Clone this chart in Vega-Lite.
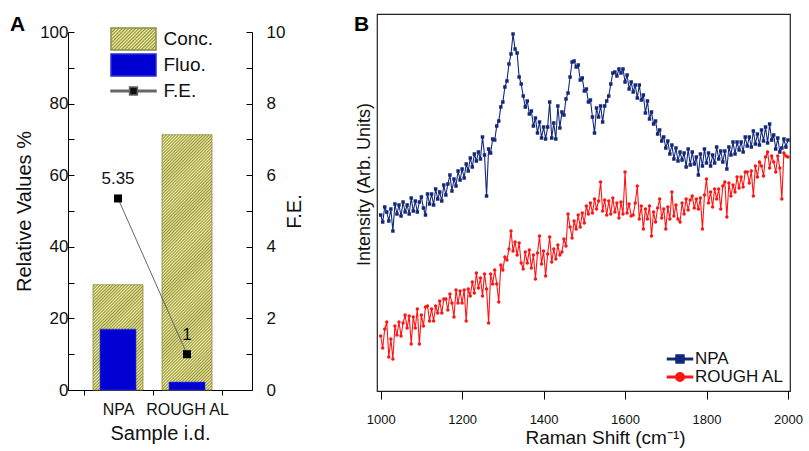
{
"$schema":"https://vega.github.io/schema/vega-lite/v6.json",
"background":"white",
"padding":{"left":10,"top":13,"right":5,"bottom":5},
"spacing":48,
"config":{"font":"Liberation Sans","view":{"stroke":null},
"axis":{"domainColor":"#000","tickColor":"#000","labelColor":"#111","titleColor":"#111","grid":false,"titleFontWeight":"normal","labelFont":"Liberation Sans","titleFont":"Liberation Sans"},
"legend":{"labelFont":"Liberation Sans"},"title":{"font":"Liberation Sans"}},
"resolve":{"scale":{"color":"independent"},"legend":{"color":"independent"}},
"datasets":{
"a":[{"sample":"NPA","series":"Conc.","value":29.4},{"sample":"ROUGH AL","series":"Conc.","value":71.3},{"sample":"NPA","series":"Fluo.","value":17.0},{"sample":"ROUGH AL","series":"Fluo.","value":2.2},{"sample":"NPA","series":"F.E.","value":5.35},{"sample":"ROUGH AL","series":"F.E.","value":1}],
"npa":[{"x":1000,"y":176},{"x":1005,"y":169},{"x":1010,"y":184},{"x":1015,"y":179},{"x":1020,"y":170},{"x":1025,"y":182},{"x":1030,"y":160},{"x":1035,"y":187},{"x":1040,"y":177},{"x":1045,"y":186},{"x":1050,"y":175},{"x":1055,"y":189},{"x":1060,"y":179},{"x":1065,"y":186},{"x":1070,"y":177},{"x":1075,"y":193},{"x":1080,"y":180},{"x":1085,"y":190},{"x":1090,"y":179},{"x":1095,"y":189},{"x":1100,"y":194},{"x":1105,"y":183},{"x":1110,"y":176},{"x":1115,"y":197},{"x":1120,"y":187},{"x":1125,"y":197},{"x":1130,"y":186},{"x":1135,"y":202},{"x":1140,"y":192},{"x":1145,"y":199},{"x":1150,"y":190},{"x":1155,"y":206},{"x":1160,"y":196},{"x":1165,"y":207},{"x":1170,"y":216},{"x":1175,"y":200},{"x":1180,"y":212},{"x":1185,"y":205},{"x":1190,"y":220},{"x":1195,"y":211},{"x":1200,"y":222},{"x":1205,"y":213},{"x":1210,"y":227},{"x":1215,"y":220},{"x":1220,"y":233},{"x":1225,"y":224},{"x":1230,"y":237},{"x":1235,"y":230},{"x":1240,"y":239},{"x":1245,"y":232},{"x":1250,"y":254},{"x":1255,"y":236},{"x":1260,"y":195},{"x":1265,"y":242},{"x":1270,"y":238},{"x":1275,"y":252},{"x":1280,"y":251},{"x":1285,"y":265},{"x":1290,"y":270},{"x":1295,"y":284},{"x":1300,"y":289},{"x":1305,"y":304},{"x":1310,"y":310},{"x":1315,"y":327},{"x":1320,"y":337},{"x":1325,"y":357},{"x":1330,"y":342},{"x":1335,"y":338},{"x":1340,"y":314},{"x":1345,"y":307},{"x":1350,"y":295},{"x":1355,"y":284},{"x":1360,"y":290},{"x":1365,"y":277},{"x":1370,"y":280},{"x":1375,"y":265},{"x":1380,"y":273},{"x":1385,"y":258},{"x":1390,"y":269},{"x":1395,"y":253},{"x":1400,"y":264},{"x":1405,"y":252},{"x":1410,"y":264},{"x":1415,"y":289},{"x":1420,"y":253},{"x":1425,"y":268},{"x":1430,"y":252},{"x":1435,"y":285},{"x":1440,"y":263},{"x":1445,"y":279},{"x":1450,"y":276},{"x":1455,"y":292},{"x":1460,"y":298},{"x":1465,"y":314},{"x":1470,"y":329},{"x":1475,"y":330},{"x":1480,"y":324},{"x":1485,"y":326},{"x":1490,"y":311},{"x":1495,"y":313},{"x":1500,"y":300},{"x":1505,"y":302},{"x":1510,"y":289},{"x":1515,"y":291},{"x":1520,"y":274},{"x":1525,"y":258},{"x":1530,"y":283},{"x":1535,"y":274},{"x":1540,"y":285},{"x":1545,"y":269},{"x":1550,"y":285},{"x":1555,"y":290},{"x":1560,"y":295},{"x":1565,"y":307},{"x":1570,"y":318},{"x":1575,"y":319},{"x":1580,"y":315},{"x":1585,"y":322},{"x":1590,"y":318},{"x":1595,"y":322},{"x":1600,"y":309},{"x":1605,"y":316},{"x":1610,"y":302},{"x":1615,"y":309},{"x":1620,"y":299},{"x":1625,"y":306},{"x":1630,"y":293},{"x":1635,"y":306},{"x":1640,"y":291},{"x":1645,"y":296},{"x":1650,"y":278},{"x":1655,"y":290},{"x":1660,"y":272},{"x":1665,"y":279},{"x":1670,"y":267},{"x":1675,"y":270},{"x":1680,"y":257},{"x":1685,"y":261},{"x":1690,"y":250},{"x":1695,"y":254},{"x":1700,"y":243},{"x":1705,"y":250},{"x":1710,"y":237},{"x":1715,"y":246},{"x":1720,"y":232},{"x":1725,"y":243},{"x":1730,"y":230},{"x":1735,"y":239},{"x":1740,"y":231},{"x":1745,"y":238},{"x":1750,"y":224},{"x":1755,"y":242},{"x":1760,"y":226},{"x":1765,"y":239},{"x":1770,"y":227},{"x":1775,"y":234},{"x":1780,"y":216},{"x":1785,"y":237},{"x":1790,"y":225},{"x":1795,"y":242},{"x":1800,"y":228},{"x":1805,"y":238},{"x":1810,"y":225},{"x":1815,"y":236},{"x":1820,"y":228},{"x":1825,"y":244},{"x":1830,"y":232},{"x":1835,"y":240},{"x":1840,"y":229},{"x":1845,"y":240},{"x":1850,"y":222},{"x":1855,"y":244},{"x":1860,"y":236},{"x":1865,"y":249},{"x":1870,"y":237},{"x":1875,"y":249},{"x":1880,"y":241},{"x":1885,"y":249},{"x":1890,"y":239},{"x":1895,"y":254},{"x":1900,"y":245},{"x":1905,"y":254},{"x":1910,"y":244},{"x":1915,"y":260},{"x":1920,"y":247},{"x":1925,"y":257},{"x":1930,"y":246},{"x":1935,"y":261},{"x":1940,"y":250},{"x":1945,"y":264},{"x":1950,"y":248},{"x":1955,"y":267},{"x":1960,"y":251},{"x":1965,"y":256},{"x":1970,"y":242},{"x":1975,"y":253},{"x":1980,"y":239},{"x":1985,"y":243},{"x":1990,"y":252},{"x":1995,"y":244},{"x":2000,"y":251}],
"ral":[{"x":1000,"y":55},{"x":1005,"y":43},{"x":1010,"y":62},{"x":1015,"y":69},{"x":1020,"y":34},{"x":1025,"y":52},{"x":1030,"y":32},{"x":1035,"y":65},{"x":1040,"y":56},{"x":1045,"y":69},{"x":1050,"y":55},{"x":1055,"y":68},{"x":1060,"y":76},{"x":1065,"y":63},{"x":1070,"y":75},{"x":1075,"y":47},{"x":1080,"y":74},{"x":1085,"y":63},{"x":1090,"y":82},{"x":1095,"y":47},{"x":1100,"y":76},{"x":1105,"y":65},{"x":1110,"y":84},{"x":1115,"y":85},{"x":1120,"y":70},{"x":1125,"y":82},{"x":1130,"y":70},{"x":1135,"y":85},{"x":1140,"y":78},{"x":1145,"y":90},{"x":1150,"y":78},{"x":1155,"y":92},{"x":1160,"y":92},{"x":1165,"y":81},{"x":1170,"y":97},{"x":1175,"y":88},{"x":1180,"y":74},{"x":1185,"y":101},{"x":1190,"y":88},{"x":1195,"y":100},{"x":1200,"y":88},{"x":1205,"y":101},{"x":1210,"y":70},{"x":1215,"y":102},{"x":1220,"y":95},{"x":1225,"y":109},{"x":1230,"y":98},{"x":1235,"y":118},{"x":1240,"y":103},{"x":1245,"y":113},{"x":1250,"y":95},{"x":1255,"y":117},{"x":1260,"y":102},{"x":1265,"y":68},{"x":1270,"y":117},{"x":1275,"y":107},{"x":1280,"y":121},{"x":1285,"y":107},{"x":1290,"y":89},{"x":1295,"y":126},{"x":1300,"y":121},{"x":1305,"y":134},{"x":1310,"y":131},{"x":1315,"y":142},{"x":1320,"y":160},{"x":1325,"y":140},{"x":1330,"y":149},{"x":1335,"y":136},{"x":1340,"y":148},{"x":1345,"y":128},{"x":1350,"y":122},{"x":1355,"y":139},{"x":1360,"y":128},{"x":1365,"y":141},{"x":1370,"y":123},{"x":1375,"y":136},{"x":1380,"y":112},{"x":1385,"y":138},{"x":1390,"y":155},{"x":1395,"y":127},{"x":1400,"y":140},{"x":1405,"y":115},{"x":1410,"y":137},{"x":1415,"y":154},{"x":1420,"y":129},{"x":1425,"y":142},{"x":1430,"y":132},{"x":1435,"y":146},{"x":1440,"y":136},{"x":1445,"y":139},{"x":1450,"y":152},{"x":1455,"y":145},{"x":1460,"y":177},{"x":1465,"y":164},{"x":1470,"y":153},{"x":1475,"y":170},{"x":1480,"y":162},{"x":1485,"y":176},{"x":1490,"y":164},{"x":1495,"y":178},{"x":1500,"y":168},{"x":1505,"y":185},{"x":1510,"y":177},{"x":1515,"y":188},{"x":1520,"y":178},{"x":1525,"y":192},{"x":1530,"y":182},{"x":1535,"y":190},{"x":1540,"y":209},{"x":1545,"y":180},{"x":1550,"y":191},{"x":1555,"y":176},{"x":1560,"y":190},{"x":1565,"y":177},{"x":1570,"y":193},{"x":1575,"y":179},{"x":1580,"y":188},{"x":1585,"y":173},{"x":1590,"y":189},{"x":1595,"y":177},{"x":1600,"y":219},{"x":1605,"y":178},{"x":1610,"y":187},{"x":1615,"y":175},{"x":1620,"y":176},{"x":1625,"y":188},{"x":1630,"y":205},{"x":1635,"y":172},{"x":1640,"y":185},{"x":1645,"y":162},{"x":1650,"y":182},{"x":1655,"y":172},{"x":1660,"y":185},{"x":1665,"y":155},{"x":1670,"y":179},{"x":1675,"y":169},{"x":1680,"y":183},{"x":1685,"y":192},{"x":1690,"y":173},{"x":1695,"y":182},{"x":1700,"y":162},{"x":1705,"y":184},{"x":1710,"y":172},{"x":1715,"y":199},{"x":1720,"y":175},{"x":1725,"y":186},{"x":1730,"y":172},{"x":1735,"y":169},{"x":1740,"y":188},{"x":1745,"y":177},{"x":1750,"y":192},{"x":1755,"y":181},{"x":1760,"y":191},{"x":1765,"y":195},{"x":1770,"y":183},{"x":1775,"y":192},{"x":1780,"y":182},{"x":1785,"y":193},{"x":1790,"y":162},{"x":1795,"y":196},{"x":1800,"y":212},{"x":1805,"y":188},{"x":1810,"y":199},{"x":1815,"y":184},{"x":1820,"y":202},{"x":1825,"y":192},{"x":1830,"y":202},{"x":1835,"y":182},{"x":1840,"y":205},{"x":1845,"y":209},{"x":1850,"y":174},{"x":1855,"y":208},{"x":1860,"y":195},{"x":1865,"y":206},{"x":1870,"y":199},{"x":1875,"y":214},{"x":1880,"y":203},{"x":1885,"y":214},{"x":1890,"y":204},{"x":1895,"y":219},{"x":1900,"y":219},{"x":1905,"y":208},{"x":1910,"y":220},{"x":1915,"y":195},{"x":1920,"y":225},{"x":1925,"y":214},{"x":1930,"y":229},{"x":1935,"y":225},{"x":1940,"y":215},{"x":1945,"y":234},{"x":1950,"y":239},{"x":1955,"y":223},{"x":1960,"y":235},{"x":1965,"y":229},{"x":1970,"y":219},{"x":1975,"y":235},{"x":1980,"y":223},{"x":1985,"y":192},{"x":1990,"y":238},{"x":1995,"y":235},{"x":2000,"y":234}]
},
"hconcat":[
{
"width":184,"height":376,
"title":{"text":"A","anchor":"start","frame":"group","fontSize":21,"fontWeight":"bold","baseline":"alphabetic","dx":-58,"dy":38,"offset":0,"color":"#000"},
"data":{"name":"a"},
"encoding":{"x":{"field":"sample","type":"nominal","sort":["NPA","ROUGH AL"],"scale":{"paddingInner":0,"paddingOuter":0.3333,"align":0.337},"axis":{"title":"Sample i.d.","titleFontSize":20,"labelFontSize":16,"labelAngle":0,"tickBand":"extent","tickSize":5,"labelPadding":6,"titlePadding":6}}},
"layer":[
{"transform":[{"filter":"datum.series === 'Conc.' && datum.sample === 'NPA'"}],"encoding":{"y":{"field":"value","type":"quantitative","scale":{"domain":[0,100],"range":[376,18]},"axis":{"orient":"left","title":"Relative Values %","titleFontSize":20,"labelFontSize":17,"values":[0,10,20,30,40,50,60,70,80,90,100],"labelExpr":"datum.value % 20 === 0 ? datum.label : ''","tickSize":-6,"labelPadding":6,"titlePadding":5}}},"mark":{"type":"bar","width":50,"stroke":"#8d8c45","strokeWidth":0.8,"fill":{"gradient":"linear","x1":0,"y1":0,"x2":0.572,"y2":1.2035,"stops":[{"offset":0,"color":"#f6f4a6"},{"offset":0.01,"color":"#8f8e3e"},{"offset":0.02,"color":"#f6f4a6"},{"offset":0.03,"color":"#8f8e3e"},{"offset":0.04,"color":"#f6f4a6"},{"offset":0.05,"color":"#8f8e3e"},{"offset":0.06,"color":"#f6f4a6"},{"offset":0.07,"color":"#8f8e3e"},{"offset":0.08,"color":"#f6f4a6"},{"offset":0.09,"color":"#8f8e3e"},{"offset":0.1,"color":"#f6f4a6"},{"offset":0.11,"color":"#8f8e3e"},{"offset":0.12,"color":"#f6f4a6"},{"offset":0.13,"color":"#8f8e3e"},{"offset":0.14,"color":"#f6f4a6"},{"offset":0.15,"color":"#8f8e3e"},{"offset":0.16,"color":"#f6f4a6"},{"offset":0.17,"color":"#8f8e3e"},{"offset":0.18,"color":"#f6f4a6"},{"offset":0.19,"color":"#8f8e3e"},{"offset":0.2,"color":"#f6f4a6"},{"offset":0.21,"color":"#8f8e3e"},{"offset":0.22,"color":"#f6f4a6"},{"offset":0.23,"color":"#8f8e3e"},{"offset":0.24,"color":"#f6f4a6"},{"offset":0.25,"color":"#8f8e3e"},{"offset":0.26,"color":"#f6f4a6"},{"offset":0.27,"color":"#8f8e3e"},{"offset":0.28,"color":"#f6f4a6"},{"offset":0.29,"color":"#8f8e3e"},{"offset":0.3,"color":"#f6f4a6"},{"offset":0.31,"color":"#8f8e3e"},{"offset":0.32,"color":"#f6f4a6"},{"offset":0.33,"color":"#8f8e3e"},{"offset":0.34,"color":"#f6f4a6"},{"offset":0.35,"color":"#8f8e3e"},{"offset":0.36,"color":"#f6f4a6"},{"offset":0.37,"color":"#8f8e3e"},{"offset":0.38,"color":"#f6f4a6"},{"offset":0.39,"color":"#8f8e3e"},{"offset":0.4,"color":"#f6f4a6"},{"offset":0.41,"color":"#8f8e3e"},{"offset":0.42,"color":"#f6f4a6"},{"offset":0.43,"color":"#8f8e3e"},{"offset":0.44,"color":"#f6f4a6"},{"offset":0.45,"color":"#8f8e3e"},{"offset":0.46,"color":"#f6f4a6"},{"offset":0.47,"color":"#8f8e3e"},{"offset":0.48,"color":"#f6f4a6"},{"offset":0.49,"color":"#8f8e3e"},{"offset":0.5,"color":"#f6f4a6"},{"offset":0.51,"color":"#8f8e3e"},{"offset":0.52,"color":"#f6f4a6"},{"offset":0.53,"color":"#8f8e3e"},{"offset":0.54,"color":"#f6f4a6"},{"offset":0.55,"color":"#8f8e3e"},{"offset":0.56,"color":"#f6f4a6"},{"offset":0.57,"color":"#8f8e3e"},{"offset":0.58,"color":"#f6f4a6"},{"offset":0.59,"color":"#8f8e3e"},{"offset":0.6,"color":"#f6f4a6"},{"offset":0.61,"color":"#8f8e3e"},{"offset":0.62,"color":"#f6f4a6"},{"offset":0.63,"color":"#8f8e3e"},{"offset":0.64,"color":"#f6f4a6"},{"offset":0.65,"color":"#8f8e3e"},{"offset":0.66,"color":"#f6f4a6"},{"offset":0.67,"color":"#8f8e3e"},{"offset":0.68,"color":"#f6f4a6"},{"offset":0.69,"color":"#8f8e3e"},{"offset":0.7,"color":"#f6f4a6"},{"offset":0.71,"color":"#8f8e3e"},{"offset":0.72,"color":"#f6f4a6"},{"offset":0.73,"color":"#8f8e3e"},{"offset":0.74,"color":"#f6f4a6"},{"offset":0.75,"color":"#8f8e3e"},{"offset":0.76,"color":"#f6f4a6"},{"offset":0.77,"color":"#8f8e3e"},{"offset":0.78,"color":"#f6f4a6"},{"offset":0.79,"color":"#8f8e3e"},{"offset":0.8,"color":"#f6f4a6"},{"offset":0.81,"color":"#8f8e3e"},{"offset":0.82,"color":"#f6f4a6"},{"offset":0.83,"color":"#8f8e3e"},{"offset":0.84,"color":"#f6f4a6"},{"offset":0.85,"color":"#8f8e3e"},{"offset":0.86,"color":"#f6f4a6"},{"offset":0.87,"color":"#8f8e3e"},{"offset":0.88,"color":"#f6f4a6"},{"offset":0.89,"color":"#8f8e3e"},{"offset":0.9,"color":"#f6f4a6"},{"offset":0.91,"color":"#8f8e3e"},{"offset":0.92,"color":"#f6f4a6"},{"offset":0.93,"color":"#8f8e3e"},{"offset":0.94,"color":"#f6f4a6"},{"offset":0.95,"color":"#8f8e3e"},{"offset":0.96,"color":"#f6f4a6"},{"offset":0.97,"color":"#8f8e3e"},{"offset":0.98,"color":"#f6f4a6"},{"offset":0.99,"color":"#8f8e3e"},{"offset":1,"color":"#f6f4a6"}]}}},
{"transform":[{"filter":"datum.series === 'Conc.' && datum.sample === 'ROUGH AL'"}],"encoding":{"y":{"field":"value","type":"quantitative","scale":{"domain":[0,100],"range":[376,18]},"axis":null}},"mark":{"type":"bar","width":50,"stroke":"#8d8c45","strokeWidth":0.8,"fill":{"gradient":"linear","x1":0,"y1":0,"x2":0.2256,"y2":1.1517,"stops":[{"offset":0,"color":"#f6f4a6"},{"offset":0.005,"color":"#8f8e3e"},{"offset":0.01,"color":"#f6f4a6"},{"offset":0.015,"color":"#8f8e3e"},{"offset":0.02,"color":"#f6f4a6"},{"offset":0.025,"color":"#8f8e3e"},{"offset":0.03,"color":"#f6f4a6"},{"offset":0.035,"color":"#8f8e3e"},{"offset":0.04,"color":"#f6f4a6"},{"offset":0.045,"color":"#8f8e3e"},{"offset":0.05,"color":"#f6f4a6"},{"offset":0.055,"color":"#8f8e3e"},{"offset":0.06,"color":"#f6f4a6"},{"offset":0.065,"color":"#8f8e3e"},{"offset":0.07,"color":"#f6f4a6"},{"offset":0.075,"color":"#8f8e3e"},{"offset":0.08,"color":"#f6f4a6"},{"offset":0.085,"color":"#8f8e3e"},{"offset":0.09,"color":"#f6f4a6"},{"offset":0.095,"color":"#8f8e3e"},{"offset":0.1,"color":"#f6f4a6"},{"offset":0.105,"color":"#8f8e3e"},{"offset":0.11,"color":"#f6f4a6"},{"offset":0.115,"color":"#8f8e3e"},{"offset":0.12,"color":"#f6f4a6"},{"offset":0.125,"color":"#8f8e3e"},{"offset":0.13,"color":"#f6f4a6"},{"offset":0.135,"color":"#8f8e3e"},{"offset":0.14,"color":"#f6f4a6"},{"offset":0.145,"color":"#8f8e3e"},{"offset":0.15,"color":"#f6f4a6"},{"offset":0.155,"color":"#8f8e3e"},{"offset":0.16,"color":"#f6f4a6"},{"offset":0.165,"color":"#8f8e3e"},{"offset":0.17,"color":"#f6f4a6"},{"offset":0.175,"color":"#8f8e3e"},{"offset":0.18,"color":"#f6f4a6"},{"offset":0.185,"color":"#8f8e3e"},{"offset":0.19,"color":"#f6f4a6"},{"offset":0.195,"color":"#8f8e3e"},{"offset":0.2,"color":"#f6f4a6"},{"offset":0.205,"color":"#8f8e3e"},{"offset":0.21,"color":"#f6f4a6"},{"offset":0.215,"color":"#8f8e3e"},{"offset":0.22,"color":"#f6f4a6"},{"offset":0.225,"color":"#8f8e3e"},{"offset":0.23,"color":"#f6f4a6"},{"offset":0.235,"color":"#8f8e3e"},{"offset":0.24,"color":"#f6f4a6"},{"offset":0.245,"color":"#8f8e3e"},{"offset":0.25,"color":"#f6f4a6"},{"offset":0.255,"color":"#8f8e3e"},{"offset":0.26,"color":"#f6f4a6"},{"offset":0.265,"color":"#8f8e3e"},{"offset":0.27,"color":"#f6f4a6"},{"offset":0.275,"color":"#8f8e3e"},{"offset":0.28,"color":"#f6f4a6"},{"offset":0.285,"color":"#8f8e3e"},{"offset":0.29,"color":"#f6f4a6"},{"offset":0.295,"color":"#8f8e3e"},{"offset":0.3,"color":"#f6f4a6"},{"offset":0.305,"color":"#8f8e3e"},{"offset":0.31,"color":"#f6f4a6"},{"offset":0.315,"color":"#8f8e3e"},{"offset":0.32,"color":"#f6f4a6"},{"offset":0.325,"color":"#8f8e3e"},{"offset":0.33,"color":"#f6f4a6"},{"offset":0.335,"color":"#8f8e3e"},{"offset":0.34,"color":"#f6f4a6"},{"offset":0.345,"color":"#8f8e3e"},{"offset":0.35,"color":"#f6f4a6"},{"offset":0.355,"color":"#8f8e3e"},{"offset":0.36,"color":"#f6f4a6"},{"offset":0.365,"color":"#8f8e3e"},{"offset":0.37,"color":"#f6f4a6"},{"offset":0.375,"color":"#8f8e3e"},{"offset":0.38,"color":"#f6f4a6"},{"offset":0.385,"color":"#8f8e3e"},{"offset":0.39,"color":"#f6f4a6"},{"offset":0.395,"color":"#8f8e3e"},{"offset":0.4,"color":"#f6f4a6"},{"offset":0.405,"color":"#8f8e3e"},{"offset":0.41,"color":"#f6f4a6"},{"offset":0.415,"color":"#8f8e3e"},{"offset":0.42,"color":"#f6f4a6"},{"offset":0.425,"color":"#8f8e3e"},{"offset":0.43,"color":"#f6f4a6"},{"offset":0.435,"color":"#8f8e3e"},{"offset":0.44,"color":"#f6f4a6"},{"offset":0.445,"color":"#8f8e3e"},{"offset":0.45,"color":"#f6f4a6"},{"offset":0.455,"color":"#8f8e3e"},{"offset":0.46,"color":"#f6f4a6"},{"offset":0.465,"color":"#8f8e3e"},{"offset":0.47,"color":"#f6f4a6"},{"offset":0.475,"color":"#8f8e3e"},{"offset":0.48,"color":"#f6f4a6"},{"offset":0.485,"color":"#8f8e3e"},{"offset":0.49,"color":"#f6f4a6"},{"offset":0.495,"color":"#8f8e3e"},{"offset":0.5,"color":"#f6f4a6"},{"offset":0.505,"color":"#8f8e3e"},{"offset":0.51,"color":"#f6f4a6"},{"offset":0.515,"color":"#8f8e3e"},{"offset":0.52,"color":"#f6f4a6"},{"offset":0.525,"color":"#8f8e3e"},{"offset":0.53,"color":"#f6f4a6"},{"offset":0.535,"color":"#8f8e3e"},{"offset":0.54,"color":"#f6f4a6"},{"offset":0.545,"color":"#8f8e3e"},{"offset":0.55,"color":"#f6f4a6"},{"offset":0.555,"color":"#8f8e3e"},{"offset":0.56,"color":"#f6f4a6"},{"offset":0.565,"color":"#8f8e3e"},{"offset":0.57,"color":"#f6f4a6"},{"offset":0.575,"color":"#8f8e3e"},{"offset":0.58,"color":"#f6f4a6"},{"offset":0.585,"color":"#8f8e3e"},{"offset":0.59,"color":"#f6f4a6"},{"offset":0.595,"color":"#8f8e3e"},{"offset":0.6,"color":"#f6f4a6"},{"offset":0.605,"color":"#8f8e3e"},{"offset":0.61,"color":"#f6f4a6"},{"offset":0.615,"color":"#8f8e3e"},{"offset":0.62,"color":"#f6f4a6"},{"offset":0.625,"color":"#8f8e3e"},{"offset":0.63,"color":"#f6f4a6"},{"offset":0.635,"color":"#8f8e3e"},{"offset":0.64,"color":"#f6f4a6"},{"offset":0.645,"color":"#8f8e3e"},{"offset":0.65,"color":"#f6f4a6"},{"offset":0.655,"color":"#8f8e3e"},{"offset":0.66,"color":"#f6f4a6"},{"offset":0.665,"color":"#8f8e3e"},{"offset":0.67,"color":"#f6f4a6"},{"offset":0.675,"color":"#8f8e3e"},{"offset":0.68,"color":"#f6f4a6"},{"offset":0.685,"color":"#8f8e3e"},{"offset":0.69,"color":"#f6f4a6"},{"offset":0.695,"color":"#8f8e3e"},{"offset":0.7,"color":"#f6f4a6"},{"offset":0.705,"color":"#8f8e3e"},{"offset":0.71,"color":"#f6f4a6"},{"offset":0.715,"color":"#8f8e3e"},{"offset":0.72,"color":"#f6f4a6"},{"offset":0.725,"color":"#8f8e3e"},{"offset":0.73,"color":"#f6f4a6"},{"offset":0.735,"color":"#8f8e3e"},{"offset":0.74,"color":"#f6f4a6"},{"offset":0.745,"color":"#8f8e3e"},{"offset":0.75,"color":"#f6f4a6"},{"offset":0.755,"color":"#8f8e3e"},{"offset":0.76,"color":"#f6f4a6"},{"offset":0.765,"color":"#8f8e3e"},{"offset":0.77,"color":"#f6f4a6"},{"offset":0.775,"color":"#8f8e3e"},{"offset":0.78,"color":"#f6f4a6"},{"offset":0.785,"color":"#8f8e3e"},{"offset":0.79,"color":"#f6f4a6"},{"offset":0.795,"color":"#8f8e3e"},{"offset":0.8,"color":"#f6f4a6"},{"offset":0.805,"color":"#8f8e3e"},{"offset":0.81,"color":"#f6f4a6"},{"offset":0.815,"color":"#8f8e3e"},{"offset":0.82,"color":"#f6f4a6"},{"offset":0.825,"color":"#8f8e3e"},{"offset":0.83,"color":"#f6f4a6"},{"offset":0.835,"color":"#8f8e3e"},{"offset":0.84,"color":"#f6f4a6"},{"offset":0.845,"color":"#8f8e3e"},{"offset":0.85,"color":"#f6f4a6"},{"offset":0.855,"color":"#8f8e3e"},{"offset":0.86,"color":"#f6f4a6"},{"offset":0.865,"color":"#8f8e3e"},{"offset":0.87,"color":"#f6f4a6"},{"offset":0.875,"color":"#8f8e3e"},{"offset":0.88,"color":"#f6f4a6"},{"offset":0.885,"color":"#8f8e3e"},{"offset":0.89,"color":"#f6f4a6"},{"offset":0.895,"color":"#8f8e3e"},{"offset":0.9,"color":"#f6f4a6"},{"offset":0.905,"color":"#8f8e3e"},{"offset":0.91,"color":"#f6f4a6"},{"offset":0.915,"color":"#8f8e3e"},{"offset":0.92,"color":"#f6f4a6"},{"offset":0.925,"color":"#8f8e3e"},{"offset":0.93,"color":"#f6f4a6"},{"offset":0.935,"color":"#8f8e3e"},{"offset":0.94,"color":"#f6f4a6"},{"offset":0.945,"color":"#8f8e3e"},{"offset":0.95,"color":"#f6f4a6"},{"offset":0.955,"color":"#8f8e3e"},{"offset":0.96,"color":"#f6f4a6"},{"offset":0.965,"color":"#8f8e3e"},{"offset":0.97,"color":"#f6f4a6"},{"offset":0.975,"color":"#8f8e3e"},{"offset":0.98,"color":"#f6f4a6"},{"offset":0.985,"color":"#8f8e3e"},{"offset":0.99,"color":"#f6f4a6"},{"offset":0.995,"color":"#8f8e3e"},{"offset":1,"color":"#f6f4a6"}]}}},
{"transform":[{"filter":"datum.series === 'Fluo.'"}],"mark":{"type":"bar","width":36,"color":"#0000d2","stroke":"#3a3ae0","strokeWidth":0.6},"encoding":{"y":{"field":"value","type":"quantitative","scale":{"domain":[0,100],"range":[376,18]},"axis":null}}},
{"transform":[{"filter":"datum.series === 'F.E.'"}],"mark":{"type":"line","strokeWidth":1},"encoding":{"y":{"field":"value","type":"quantitative","scale":{"domain":[0,10],"range":[376,18]},"axis":{"orient":"right","title":"F.E.","titleAngle":270,"titleFontSize":20,"labelFontSize":17,"values":[0,1,2,3,4,5,6,7,8,9,10],"labelExpr":"datum.value % 2 === 0 ? datum.label : ''","tickSize":-6,"labelPadding":20,"titlePadding":20}},"color":{"datum":"F.E.","scale":{"domain":["Conc.","Fluo.","F.E."],"range":["#8d8c45","#2a2ad8","#666666"]},"legend":{"title":null,"orient":"none","legendX":53.5,"legendY":13,"symbolSize":484,"labelFontSize":19,"labelColor":"#111","labelOffset":18,"rowPadding":-3.5,"padding":0,"encode":{"symbols":{"update":{"shape":[{"test":"datum.value === 'F.E.'","value":"M-2.045,-0.06H-0.36V0.06H-2.045Z M0.36,-0.06H2.045V0.06H0.36Z M-0.36,-0.36H0.36V0.36H-0.36Z"},{"value":"M-2.045,-1H2.045V1H-2.045Z"}],"fill":[{"test":"datum.value === 'Conc.'","value":{"gradient":"linear","x1":0,"y1":0,"x2":1.202,"y2":0.588,"stops":[{"offset":0,"color":"#f6f4a6"},{"offset":0.025,"color":"#8f8e3e"},{"offset":0.05,"color":"#f6f4a6"},{"offset":0.075,"color":"#8f8e3e"},{"offset":0.1,"color":"#f6f4a6"},{"offset":0.125,"color":"#8f8e3e"},{"offset":0.15,"color":"#f6f4a6"},{"offset":0.175,"color":"#8f8e3e"},{"offset":0.2,"color":"#f6f4a6"},{"offset":0.225,"color":"#8f8e3e"},{"offset":0.25,"color":"#f6f4a6"},{"offset":0.275,"color":"#8f8e3e"},{"offset":0.3,"color":"#f6f4a6"},{"offset":0.325,"color":"#8f8e3e"},{"offset":0.35,"color":"#f6f4a6"},{"offset":0.375,"color":"#8f8e3e"},{"offset":0.4,"color":"#f6f4a6"},{"offset":0.425,"color":"#8f8e3e"},{"offset":0.45,"color":"#f6f4a6"},{"offset":0.475,"color":"#8f8e3e"},{"offset":0.5,"color":"#f6f4a6"},{"offset":0.525,"color":"#8f8e3e"},{"offset":0.55,"color":"#f6f4a6"},{"offset":0.575,"color":"#8f8e3e"},{"offset":0.6,"color":"#f6f4a6"},{"offset":0.625,"color":"#8f8e3e"},{"offset":0.65,"color":"#f6f4a6"},{"offset":0.675,"color":"#8f8e3e"},{"offset":0.7,"color":"#f6f4a6"},{"offset":0.725,"color":"#8f8e3e"},{"offset":0.75,"color":"#f6f4a6"},{"offset":0.775,"color":"#8f8e3e"},{"offset":0.8,"color":"#f6f4a6"},{"offset":0.825,"color":"#8f8e3e"},{"offset":0.85,"color":"#f6f4a6"},{"offset":0.875,"color":"#8f8e3e"},{"offset":0.9,"color":"#f6f4a6"},{"offset":0.925,"color":"#8f8e3e"},{"offset":0.95,"color":"#f6f4a6"},{"offset":0.975,"color":"#8f8e3e"},{"offset":1,"color":"#f6f4a6"}]}},{"test":"datum.value === 'Fluo.'","value":"#0000d2"},{"value":"#111"}],"stroke":{"value":"transparent"},"opacity":{"value":1}}}}}}}},
{"transform":[{"filter":"datum.series === 'F.E.'"}],"mark":{"type":"point","shape":"square","filled":true,"size":64,"opacity":1,"color":"#000"},"encoding":{"y":{"field":"value","type":"quantitative","scale":{"domain":[0,10],"range":[376,18]},"axis":null}}},
{"transform":[{"filter":"datum.series === 'F.E.'"}],"mark":{"type":"text","fontSize":17,"dy":-19,"color":"#111"},"encoding":{"y":{"field":"value","type":"quantitative","scale":{"domain":[0,10],"range":[376,18]},"axis":null},"text":{"field":"value","type":"quantitative"}}}
],
"resolve":{"scale":{"y":"independent"},"axis":{"y":"independent"}}
},
{
"width":413,"height":377,
"view":{"stroke":"#222","strokeWidth":1.2},
"title":{"text":"B","anchor":"start","frame":"group","fontSize":21,"fontWeight":"bold","baseline":"alphabetic","dx":-23,"dy":38,"offset":0,"color":"#000"},
"encoding":{
"x":{"field":"x","type":"quantitative","scale":{"domain":[991,2005],"nice":false,"zero":false},"axis":{"values":[1000,1200,1400,1600,1800,2000],"format":"d","labelFontSize":13,"tickSize":8,"labelPadding":14,"domain":false,"title":"Raman Shift (cm⁻¹)","titleFontSize":19,"titlePadding":2,"titleX":228}},
"y":{"field":"y","type":"quantitative","scale":{"domain":[0,377],"nice":false},"axis":{"title":"Intensity (Arb. Units)","labels":false,"ticks":false,"domain":false,"titleFontSize":18,"titlePadding":4,"titleY":170}}
},
"layer":[
{"data":{"name":"npa"},"mark":{"type":"line","strokeWidth":1.1},"encoding":{"color":{"datum":"NPA","scale":{"domain":["NPA","ROUGH AL"],"range":["#14287a","#ff1414"]},"legend":{"title":null,"orient":"none","legendX":294.5,"legendY":336.5,"symbolSize":100,"labelFontSize":17,"labelColor":"#111","labelOffset":6.5,"rowPadding":0,"padding":0,"encode":{"symbols":{"update":{"shape":[{"test":"datum.value === 'NPA'","value":"M-2.5,-0.15H2.5V0.15H-2.5Z M-0.8,-0.8H0.8V0.8H-0.8Z"},{"value":"M-2.5,-0.15H2.5V0.15H-2.5Z M-0.85,0 A0.85,0.85 0 1,1 0.85,0 A0.85,0.85 0 1,1 -0.85,0 Z"}],"fill":[{"test":"datum.value === 'NPA'","value":"#14287a"},{"value":"#ff1414"}],"stroke":{"value":"transparent"},"opacity":{"value":1}}}}}}}},
{"data":{"name":"npa"},"mark":{"type":"point","shape":"square","filled":true,"size":12,"opacity":1},"encoding":{"color":{"datum":"NPA","scale":{"domain":["NPA","ROUGH AL"],"range":["#14287a","#ff1414"]}}}},
{"data":{"name":"ral"},"mark":{"type":"line","strokeWidth":1.1},"encoding":{"color":{"datum":"ROUGH AL","scale":{"domain":["NPA","ROUGH AL"],"range":["#14287a","#ff1414"]}}}},
{"data":{"name":"ral"},"mark":{"type":"point","shape":"circle","filled":true,"size":12,"opacity":1},"encoding":{"color":{"datum":"ROUGH AL","scale":{"domain":["NPA","ROUGH AL"],"range":["#14287a","#ff1414"]}}}}
]
}
]
}
